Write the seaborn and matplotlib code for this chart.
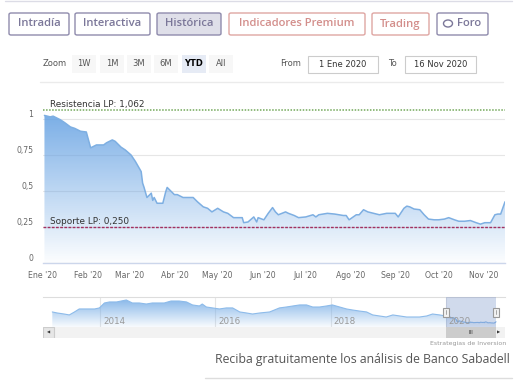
import numpy as np
import pandas as pd
import seaborn as sns
import matplotlib.pyplot as plt
import matplotlib.dates as mdates
from matplotlib.lines import Line2D
from matplotlib.patches import Rectangle, FancyBboxPatch, Ellipse
from matplotlib.transforms import blended_transform_factory
from matplotlib.ticker import FuncFormatter


# Data
dates_2020 = [
    '2020-01-02', '2020-01-06', '2020-01-08', '2020-01-13', '2020-01-16', '2020-01-20', '2020-01-23',
    '2020-01-27', '2020-01-31', '2020-02-03', '2020-02-07', '2020-02-12', '2020-02-14', '2020-02-18',
    '2020-02-20', '2020-02-24', '2020-02-27', '2020-03-02', '2020-03-05', '2020-03-09', '2020-03-10',
    '2020-03-11', '2020-03-13', '2020-03-16', '2020-03-17', '2020-03-18', '2020-03-20', '2020-03-24',
    '2020-03-26', '2020-03-27', '2020-03-30', '2020-04-01', '2020-04-03', '2020-04-07', '2020-04-10',
    '2020-04-14', '2020-04-17', '2020-04-21', '2020-04-24', '2020-04-27', '2020-05-01', '2020-05-05',
    '2020-05-08', '2020-05-12', '2020-05-18', '2020-05-19', '2020-05-22', '2020-05-26', '2020-05-28',
    '2020-05-29', '2020-06-02', '2020-06-05', '2020-06-08', '2020-06-10', '2020-06-12', '2020-06-17',
    '2020-06-19', '2020-06-23', '2020-06-26', '2020-07-01', '2020-07-06', '2020-07-08', '2020-07-10',
    '2020-07-16', '2020-07-21', '2020-07-27', '2020-07-29', '2020-07-31', '2020-08-05', '2020-08-07',
    '2020-08-10', '2020-08-13', '2020-08-17', '2020-08-21', '2020-08-26', '2020-09-01', '2020-09-03',
    '2020-09-07', '2020-09-09', '2020-09-11', '2020-09-14', '2020-09-18', '2020-09-21', '2020-09-24',
    '2020-09-28', '2020-10-01', '2020-10-05', '2020-10-08', '2020-10-12', '2020-10-15', '2020-10-19',
    '2020-10-23', '2020-10-27', '2020-10-30', '2020-11-02', '2020-11-04', '2020-11-06', '2020-11-09',
    '2020-11-11', '2020-11-13', '2020-11-16',
]
prices_2020 = [
    1.025, 1.015, 1.02, 0.995, 0.975, 0.945, 0.935,
    0.915, 0.91, 0.80, 0.82, 0.82, 0.835, 0.855,
    0.845, 0.805, 0.785, 0.75, 0.705, 0.635, 0.555,
    0.525, 0.455, 0.485, 0.435, 0.455, 0.415, 0.415,
    0.495, 0.525, 0.495, 0.475, 0.475, 0.455, 0.455,
    0.455, 0.425, 0.39, 0.38, 0.355, 0.38, 0.355,
    0.345, 0.315, 0.315, 0.28, 0.285, 0.32, 0.285,
    0.315, 0.30, 0.345, 0.385, 0.355, 0.335, 0.355,
    0.345, 0.33, 0.315, 0.32, 0.335, 0.32, 0.335,
    0.345, 0.34, 0.33, 0.33, 0.30, 0.335, 0.335,
    0.37, 0.355, 0.345, 0.335, 0.345, 0.345, 0.32,
    0.38, 0.395, 0.39, 0.375, 0.37, 0.335, 0.305,
    0.30, 0.30, 0.305, 0.315, 0.30, 0.29, 0.29,
    0.295, 0.28, 0.27, 0.28, 0.28, 0.28, 0.335,
    0.34, 0.34, 0.425,
]

hist_dates = [
    '2013-03-01', '2013-04-01', '2013-05-15', '2013-06-17', '2013-07-20', '2013-08-19', '2013-09-21',
    '2013-11-25', '2013-12-25', '2014-01-26', '2014-02-27', '2014-04-13', '2014-06-14', '2014-07-22',
    '2014-09-04', '2014-10-19', '2014-11-26', '2015-01-11', '2015-02-10', '2015-03-25', '2015-05-15',
    '2015-07-01', '2015-08-08', '2015-09-21', '2015-10-09', '2015-11-04', '2015-12-13', '2016-01-26',
    '2016-03-10', '2016-04-19', '2016-06-03', '2016-07-16', '2016-08-23', '2016-10-08', '2016-12-10',
    '2017-02-10', '2017-03-26', '2017-05-05', '2017-06-18', '2017-08-01', '2017-09-09', '2017-10-23',
    '2017-12-06', '2018-01-12', '2018-02-28', '2018-04-12', '2018-05-20', '2018-07-02', '2018-08-17',
    '2018-09-25', '2018-11-07', '2018-12-20', '2019-01-31', '2019-03-15', '2019-04-28', '2019-06-07',
    '2019-07-20', '2019-09-03', '2019-10-10', '2019-11-24',
]
hist_prices = [
    1.46, 1.35, 1.24, 1.14, 1.46, 1.78, 1.78,
    1.78, 1.89, 2.42, 2.53, 2.53, 2.74, 2.42,
    2.42, 2.31, 2.42, 2.42, 2.42, 2.63, 2.63,
    2.53, 2.21, 2.10, 2.31, 1.99, 1.89, 1.78,
    1.89, 1.89, 1.46, 1.35, 1.24, 1.35, 1.46,
    1.89, 1.99, 2.10, 2.21, 2.21, 1.99, 1.99,
    2.10, 2.21, 1.99, 1.78, 1.67, 1.56, 1.46,
    1.14, 1.03, 0.92, 1.14, 1.03, 0.92, 0.92,
    0.92, 1.03, 1.24, 1.14,
]

month_labels = ["Ene '20", "Feb '20", "Mar '20", "Abr '20", "May '20", "Jun '20",
                "Jul '20", "Ago '20", "Sep '20", "Oct '20", "Nov '20"]
year_labels = ['2014', '2016', '2018', '2020']
y_ticks = [0, 0.25, 0.5, 0.75, 1]
resistance = 1.062
support = 0.250
tabs = ['Intradía', 'Interactiva', 'Histórica', 'Indicadores Premium', 'Trading', 'Foro']
zoom_buttons = ['1W', '1M', '3M', '6M', 'YTD', 'All']
range_from = '1 Ene 2020'
range_to = '16 Nov 2020'
footer = 'Reciba gratuitamente los análisis de Banco Sabadell'
credit = 'Estrategias de Inversion'

W, H = 520, 381


def box(x0, y0, x1, y1):
    return [x0 / W, 1 - y1 / H, (x1 - x0) / W, (y1 - y0) / H]


def fx(px):
    return px / W


def fy(py):
    return 1 - py / H


def gradient_area(ax, x, y, base, top, rgb, a_top, a_bot):
    poly = ax.fill_between(x, y, base, color='none', lw=0)
    grad = np.zeros((256, 1, 4))
    grad[..., :3] = rgb
    grad[..., 3] = np.linspace(a_top, a_bot, 256)[:, None]
    xn = mdates.date2num(x)
    im = ax.imshow(grad, aspect='auto', origin='upper', zorder=1,
                   extent=[xn.min(), xn.max(), base, top])
    im.set_clip_path(poly.get_paths()[0], transform=ax.transData)


sns.set_style('white')
plt.rcParams['font.family'] = ['DejaVu Sans']

fig = plt.figure(figsize=(5.2, 3.81), dpi=100)

# Header lines
fig.add_artist(Line2D([fx(5), fx(512)], [fy(1), fy(1)], color='#dcdce6', lw=1))
fig.add_artist(Line2D([fx(40), fx(503)], [fy(82), fy(82)], color='#ebebeb', lw=1))
fig.add_artist(Line2D([fx(205), fx(512)], [fy(378), fy(378)], color='#dddddd', lw=1))

# Tabs
tab_pos = [(9, 69), (75, 150), (157, 221), (229, 365), (372, 429), (437, 488)]
for label, (x0, x1) in zip(tabs, tab_pos):
    premium = label in ('Indicadores Premium', 'Trading')
    edge = '#dfa6a3' if premium else '#8f8bad'
    tcol = '#d38e8b' if premium else '#7b7799'
    face = '#dfdfe9' if label == 'Histórica' else 'white'
    fig.add_artist(FancyBboxPatch((fx(x0), fy(35)), (x1 - x0) / W, 22 / H,
                                  boxstyle='round,pad=0,rounding_size=0.004',
                                  transform=fig.transFigure, facecolor=face, edgecolor=edge, lw=1))
    cx = (x0 + x1) / 2
    if label == 'Foro':
        fig.add_artist(Ellipse((fx(448), fy(23.5)), 9 / W, 7 / H, transform=fig.transFigure,
                               facecolor='none', edgecolor=tcol, lw=1))
        cx = 469
    fig.text(fx(cx), fy(24), label, ha='center', va='center', fontsize=8.1,
             family='Open Sans', fontweight='semibold', color=tcol)

# Zoom row
fig.text(fx(43), fy(64), 'Zoom', ha='left', va='center', fontsize=6, color='#555555')
for label, cx in zip(zoom_buttons, [84, 112, 139, 166, 194, 221]):
    sel = label == 'YTD'
    fig.add_artist(Rectangle((fx(cx - 12), fy(73)), 24 / W, 18 / H, transform=fig.transFigure,
                             facecolor='#e6ebf5' if sel else '#f7f7f7', edgecolor='none'))
    fig.text(fx(cx), fy(64), label, ha='center', va='center', fontsize=6,
             color='black' if sel else '#555555', fontweight='bold' if sel else 'normal')
fig.text(fx(291), fy(64), 'From', ha='center', va='center', fontsize=6, color='#555555')
fig.text(fx(392), fy(64), 'To', ha='center', va='center', fontsize=6, color='#555555')
for label, (x0, x1) in zip([range_from, range_to], [(308, 378), (405, 476)]):
    fig.add_artist(Rectangle((fx(x0), fy(73)), (x1 - x0) / W, 17 / H, transform=fig.transFigure,
                             facecolor='white', edgecolor='#cccccc', lw=0.8))
    fig.text(fx((x0 + x1) / 2), fy(64.5), label, ha='center', va='center', fontsize=6, color='#333333')

# Main chart
df = pd.DataFrame({'date': pd.to_datetime(dates_2020), 'price': prices_2020})
ax = fig.add_axes(box(43, 97, 505, 263))
y_top = 1.153
gradient_area(ax, df['date'], df['price'], 0, y_top, (0.39, 0.63, 0.89), 0.95, 0.02)
sns.lineplot(data=df, x='date', y='price', ax=ax, color='#7eafe2', lw=1.1, zorder=3)
ax.set_xlim(pd.Timestamp('2020-01-01'), pd.Timestamp('2020-11-16'))
ax.set_ylim(0, y_top)
ax.set_xlabel('')
ax.set_ylabel('')

ax.set_yticks(y_ticks)
ax.yaxis.set_major_formatter(FuncFormatter(lambda v, p: f'{v:g}'.replace('.', ',')))
ax.tick_params(axis='y', length=0, pad=7, labelsize=5.6, labelcolor='#666666')
for lbl in ax.get_yticklabels():
    lbl.set_verticalalignment('bottom')
ax.grid(axis='y', color='#e6e6e6', lw=0.8)
ax.grid(axis='x', visible=False)

ax.xaxis.set_major_locator(mdates.MonthLocator())
ax.xaxis.set_major_formatter(FuncFormatter(lambda v, p: month_labels[mdates.num2date(v).month - 1]))
ax.tick_params(axis='x', direction='out', length=4.3, width=0.8, color='#ccd6eb',
               pad=1.5, labelsize=5.6, labelcolor='#666666')
for side in ['top', 'right', 'left']:
    ax.spines[side].set_visible(False)
ax.spines['bottom'].set_color('#ccd6eb')
ax.spines['bottom'].set_linewidth(1)

ax.axhline(resistance, color='#73a85a', ls=(0, (1, 1)), lw=1.1, zorder=4)
ax.axhline(support, color='#a3305f', ls=(0, (2, 1)), lw=1.0, zorder=4)
ax.annotate(f'Resistencia LP: {resistance:.3f}'.replace('.', ','), xy=(0.015, resistance),
            xycoords=('axes fraction', 'data'), xytext=(0, 1), textcoords='offset points',
            va='bottom', ha='left', fontsize=6.4, color='#333333', zorder=5)
ax.annotate(f'Soporte LP: {support:.3f}'.replace('.', ','), xy=(0.015, support),
            xycoords=('axes fraction', 'data'), xytext=(0, 1), textcoords='offset points',
            va='bottom', ha='left', fontsize=6.4, color='#333333', zorder=5)

# Navigator
nav = pd.concat([pd.DataFrame({'date': pd.to_datetime(hist_dates), 'price': hist_prices}), df],
                ignore_index=True)
ax_nav = fig.add_axes(box(43, 297, 505, 327))
nav_lo, nav_hi = -0.15, 3.06
gradient_area(ax_nav, nav['date'], nav['price'], nav_lo, nav_hi, (0.45, 0.67, 0.90), 0.9, 0.05)
sns.lineplot(data=nav, x='date', y='price', ax=ax_nav, color='#8dbbea', lw=0.8, zorder=3)
ax_nav.set_xlim(pd.Timestamp('2013-01-01'), pd.Timestamp('2021-01-12'))
ax_nav.set_ylim(nav_lo, nav_hi)
ax_nav.set_xlabel('')
ax_nav.set_ylabel('')
ax_nav.set_yticks([])
ax_nav.set_xticks([pd.Timestamp(f'{y}-01-01') for y in year_labels])
ax_nav.set_xticklabels([])
ax_nav.tick_params(axis='x', length=0)
ax_nav.grid(axis='x', color='#e6e6e6', lw=0.8)
for side in ['bottom', 'right', 'left']:
    ax_nav.spines[side].set_visible(False)
ax_nav.spines['top'].set_color('#dddddd')
for y in year_labels:
    ax_nav.annotate(y, xy=(pd.Timestamp(f'{y}-01-01'), 0.2), xycoords=('data', 'axes fraction'),
                    xytext=(2, 0), textcoords='offset points', ha='left', va='center',
                    fontsize=6.3, color='#999999', zorder=5)

sel_start, sel_end = df['date'].iloc[0], df['date'].iloc[-1]
ax_nav.axvspan(sel_start, sel_end, color='#6685c2', alpha=0.3, lw=0, zorder=4)
bt = blended_transform_factory(ax_nav.transData, ax_nav.transAxes)
for d in [sel_start, sel_end]:
    xn = mdates.date2num(d)
    ax_nav.add_patch(Rectangle((xn - 20, 0.33), 40, 0.32, transform=bt, facecolor='#f2f2f2',
                               edgecolor='#999999', lw=0.8, zorder=6))
    ax_nav.add_line(Line2D([xn, xn], [0.42, 0.56], transform=bt, color='#999999', lw=0.6, zorder=7))

# Scrollbar
ax_sc = fig.add_axes(box(43, 327, 505, 338), sharex=ax_nav)
ax_sc.set_facecolor('#f2f2f2')
ax_sc.set_ylim(0, 1)
ax_sc.axvspan(sel_start, sel_end, color='#cccccc', lw=0)
ax_sc.text(mdates.date2num(sel_start) + (mdates.date2num(sel_end) - mdates.date2num(sel_start)) / 2,
           0.5, 'III', ha='center', va='center', fontsize=4, color='#333333')
ax_sc.add_patch(Rectangle((0, 0), 0.023, 1, transform=ax_sc.transAxes, facecolor='#e6e6e6',
                          edgecolor='#cccccc', lw=0.8))
ax_sc.text(0.0115, 0.5, '◀', transform=ax_sc.transAxes, ha='center', va='center', fontsize=3, color='#333333')
ax_sc.text(0.985, 0.5, '▶', transform=ax_sc.transAxes, ha='center', va='center', fontsize=3, color='#333333')
ax_sc.set_yticks([])
ax_sc.tick_params(axis='x', length=0, labelbottom=False)
ax_sc.grid(False)
for s in ax_sc.spines.values():
    s.set_visible(False)

fig.text(fx(506), fy(343), credit, ha='right', va='center', fontsize=4.5, color='#999999')
fig.text(fx(510), fy(360), footer, ha='right', va='center', fontsize=8.8, family='Open Sans', color='#555555')

fig.savefig('out.png', dpi=100)
